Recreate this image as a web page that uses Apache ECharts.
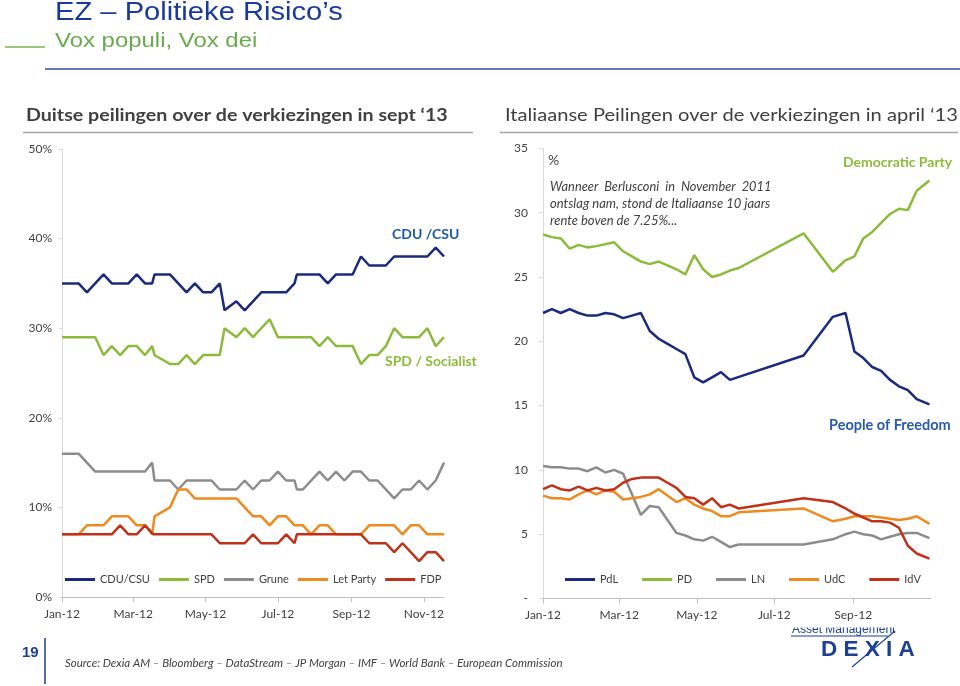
<!DOCTYPE html>
<html>
<head>
<meta charset="utf-8">
<script src="https://cdn.jsdelivr.net/npm/echarts@6/dist/echarts.min.js"></script>
<style>html,body{margin:0;padding:0;background:#fff;}#c{width:960px;height:686px;}</style>
</head>
<body>
<div id="c"></div>
<script>
// x values: days since 1 Jan 2012
const leftTickDays = [0, 60, 121, 182, 244, 305];
const leftTickLabels = ['Jan-12', 'Mar-12', 'May-12', 'Jul-12', 'Sep-12', 'Nov-12'];
const rightTickDays = [0, 60, 121, 182, 244];
const rightTickLabels = ['Jan-12', 'Mar-12', 'May-12', 'Jul-12', 'Sep-12'];

// German polls (%)
const cdu = [[0,35],[14,35],[21,34],[35,36],[42,35],[56,35],[63,36],[70,35],[76,35],[78,36],[91,36],[105,34],[112,35],[119,34],[126,34],[133,35],[137,32],[147,33],[154,32],[168,34],[189,34],[196,35],[198,36],[217,36],[224,35],[231,36],[245,36],[252,38],[259,37],[273,37],[280,38],[308,38],[315,39],[322,38]];
const spd = [[0,29],[28,29],[35,27],[42,28],[49,27],[56,28],[63,28],[70,27],[76,28],[78,27],[91,26],[98,26],[105,27],[112,26],[119,27],[133,27],[137,30],[147,29],[154,30],[161,29],[175,31],[182,29],[210,29],[217,28],[224,29],[231,28],[245,28],[252,26],[259,27],[266,27],[273,28],[280,30],[287,29],[301,29],[308,30],[315,28],[322,29]];
const grune = [[0,16],[14,16],[28,14],[70,14],[76,15],[78,13],[91,13],[98,12],[105,13],[126,13],[133,12],[147,12],[154,13],[161,12],[168,13],[175,13],[182,14],[189,13],[196,13],[198,12],[203,12],[217,14],[224,13],[231,14],[238,13],[245,14],[252,14],[259,13],[266,13],[280,11],[287,12],[294,12],[301,13],[308,12],[315,13],[322,15]];
const letParty = [[0,7],[14,7],[21,8],[35,8],[42,9],[56,9],[63,8],[70,8],[76,7],[78,9],[91,10],[98,12],[105,12],[112,11],[147,11],[161,9],[168,9],[175,8],[182,9],[189,9],[196,8],[203,8],[210,7],[217,8],[224,8],[231,7],[252,7],[259,8],[280,8],[287,7],[294,8],[301,8],[308,7],[322,7]];
const fdp = [[0,7],[42,7],[49,8],[56,7],[63,7],[70,8],[77,7],[126,7],[133,6],[154,6],[161,7],[168,6],[182,6],[189,7],[196,6],[198,7],[252,7],[259,6],[273,6],[280,5],[287,6],[301,4],[308,5],[315,5],[322,4]];

// Italian polls (%)
const pdl = [[0,22.2],[7,22.5],[14,22.2],[21,22.5],[28,22.2],[35,22.0],[42,22.0],[49,22.2],[56,22.1],[63,21.8],[70,22.0],[77,22.2],[84,20.8],[91,20.2],[98,19.8],[105,19.4],[112,19.0],[119,17.2],[126,16.8],[133,17.2],[140,17.6],[147,17.0],[205,18.9],[228,21.9],[238,22.2],[245,19.2],[252,18.7],[259,18.0],[266,17.7],[273,17.0],[280,16.5],[287,16.2],[294,15.5],[304,15.1]];
const pd = [[0,28.3],[7,28.1],[14,28.0],[21,27.2],[28,27.5],[35,27.3],[42,27.4],[56,27.7],[63,27.0],[70,26.6],[77,26.2],[84,26.0],[91,26.2],[98,25.9],[105,25.6],[112,25.2],[119,26.7],[126,25.6],[133,25.0],[140,25.2],[147,25.5],[154,25.7],[205,28.4],[228,25.4],[238,26.3],[245,26.6],[252,28.0],[259,28.5],[266,29.2],[273,29.9],[280,30.3],[287,30.2],[294,31.7],[304,32.5]];
const ln = [[0,10.3],[7,10.2],[14,10.2],[21,10.1],[28,10.1],[35,9.9],[42,10.2],[49,9.8],[56,10.0],[63,9.7],[77,6.5],[84,7.2],[91,7.1],[105,5.1],[112,4.9],[119,4.6],[126,4.5],[133,4.8],[140,4.4],[147,4.0],[154,4.2],[205,4.2],[228,4.6],[238,5.0],[245,5.2],[252,5.0],[259,4.9],[266,4.6],[273,4.8],[280,5.0],[287,5.1],[294,5.1],[304,4.7]];
const udc = [[0,8.0],[7,7.8],[14,7.8],[21,7.7],[28,8.1],[35,8.4],[42,8.1],[49,8.4],[56,8.3],[63,7.7],[70,7.8],[77,7.9],[84,8.1],[91,8.5],[105,7.5],[112,7.8],[119,7.3],[126,7.0],[133,6.8],[140,6.4],[147,6.4],[154,6.7],[205,7.0],[228,6.0],[238,6.2],[245,6.4],[252,6.4],[259,6.4],[266,6.3],[273,6.2],[280,6.1],[287,6.2],[294,6.4],[304,5.8]];
const idv = [[0,8.5],[7,8.8],[14,8.5],[21,8.4],[28,8.7],[35,8.4],[42,8.6],[49,8.4],[56,8.5],[63,9.0],[70,9.3],[77,9.4],[84,9.4],[91,9.4],[98,9.0],[105,8.6],[112,7.9],[119,7.8],[126,7.3],[133,7.8],[140,7.1],[147,7.3],[154,7.0],[205,7.8],[228,7.5],[238,7.0],[245,6.6],[252,6.3],[259,6.0],[266,6.0],[273,5.9],[280,5.5],[287,4.1],[294,3.5],[304,3.1]];

const NAVY = '#1b2a7c', GREEN = '#8cbb3c', GREY = '#8c8c8c', ORANGE = '#ee8a1f', RED = '#c0311a';
const TXT = '#404040';
const FONT = 'Lato, "Open Sans", sans-serif';
const ARIAL = '"Liberation Sans", Arial, sans-serif';

function line(name, data, color, idx) {
  return { name, type: 'line', data, xAxisIndex: idx, yAxisIndex: idx, symbol: 'none',
    color, lineStyle: { color, width: 2.5 }, z: 3 };
}
function xAx(idx, max, days, labels) {
  return { type: 'value', gridIndex: idx, min: 0, max,
    axisLine: { show: true, lineStyle: { color: '#bfbfbf', width: 1 } },
    axisTick: { show: true, customValues: days, length: 5, lineStyle: { color: '#bfbfbf' } },
    axisLabel: { customValues: days, formatter: v => labels[days.indexOf(v)], margin: 11,
      color: TXT, fontFamily: FONT, fontSize: 12 },
    splitLine: { show: false } };
}
function t(text, x, y, opts, sx) {
  return { type: 'text', silent: true, z: 10, x, y, scaleX: sx || 1,
    style: Object.assign({ text, x: 0, y: 0, fill: TXT, fontFamily: FONT, fontSize: 12,
      textAlign: 'left', textVerticalAlign: 'middle' }, opts || {}) };
}
function seg(x1, y1, x2, y2, color, w) {
  return { type: 'line', silent: true, z: 10, shape: { x1, y1, x2, y2 }, style: { stroke: color, lineWidth: w } };
}

const chart = echarts.init(document.getElementById('c'));
chart.setOption({
  animation: false,
  backgroundColor: '#ffffff',
  grid: [
    { left: 62, top: 149, width: 382, height: 448 },
    { left: 543, top: 148.4, width: 387.7, height: 450.1 }
  ],
  xAxis: [ xAx(0, 322, leftTickDays, leftTickLabels), xAx(1, 305, rightTickDays, rightTickLabels) ],
  yAxis: [
    { type: 'value', gridIndex: 0, min: 0, max: 50, interval: 10,
      axisLine: { show: true, lineStyle: { color: '#d9d9d9' } },
      axisTick: { show: true, length: 3, lineStyle: { color: '#d9d9d9' } },
      axisLabel: { formatter: '{value}%', margin: 10, color: TXT, fontFamily: FONT, fontSize: 12 },
      splitLine: { show: false } },
    { type: 'value', gridIndex: 1, min: 0, max: 35, interval: 5,
      axisLine: { show: true, lineStyle: { color: '#d9d9d9' } },
      axisTick: { show: true, length: 4, lineStyle: { color: '#d9d9d9' } },
      axisLabel: { formatter: v => v === 0 ? '-' : String(v), margin: 15, color: TXT, fontFamily: FONT, fontSize: 12 },
      splitLine: { show: false } }
  ],
  legend: [
    { data: ['CDU/CSU', 'SPD', 'Grune', 'Let Party', 'FDP'], left: 65, top: 574, orient: 'horizontal',
      icon: 'rect', itemWidth: 30, itemHeight: 3, itemGap: 9,
      textStyle: { color: TXT, fontFamily: FONT, fontSize: 11 }, padding: 0 },
    { data: ['PdL', 'PD', 'LN', 'UdC', 'IdV'], left: 565, top: 574, orient: 'horizontal',
      icon: 'rect', itemWidth: 30, itemHeight: 3, itemGap: 24,
      textStyle: { color: TXT, fontFamily: FONT, fontSize: 11 }, padding: 0 }
  ],
  series: [
    line('CDU/CSU', cdu, NAVY, 0),
    line('SPD', spd, GREEN, 0),
    line('Grune', grune, GREY, 0),
    line('Let Party', letParty, ORANGE, 0),
    line('FDP', fdp, RED, 0),
    line('PdL', pdl, NAVY, 1),
    line('PD', pd, GREEN, 1),
    line('LN', ln, GREY, 1),
    line('UdC', udc, ORANGE, 1),
    line('IdV', idv, RED, 1)
  ],
  graphic: [
    t('EZ – Politieke Risico’s', 55, 12.8, { fill: '#1a3a9a', fontFamily: ARIAL, fontSize: 26.5 }, 1.1),
    t('Vox populi, Vox dei', 55, 41, { fill: '#6aaa4e', fontFamily: ARIAL, fontSize: 21 }, 1.14),
    seg(5, 47, 45, 47, '#7ab356', 1.5),
    seg(45, 69, 960, 69, '#2e4fa3', 1.5),
    t('Duitse peilingen over de verkiezingen in sept ‘13', 26, 116, { fontWeight: 'bold', fontSize: 16.5 }, 1.19),
    seg(23, 132.5, 473, 132.5, '#a6a6a6', 1.5),
    t('Italiaanse Peilingen over de verkiezingen in april ‘13', 505, 116, { fontSize: 16.5 }, 1.22),
    seg(500, 132.5, 958, 132.5, '#a6a6a6', 1.5),
    t('CDU /CSU', 392, 234, { fontWeight: 'bold', fontSize: 14, fill: '#1f5aa8' }),
    t('SPD / Socialist', 385, 361, { fontWeight: 'bold', fontSize: 14, fill: GREEN }),
    t('%', 548, 160, { fontSize: 14 }),
    t('Wanneer  Berlusconi  in  November  2011', 550, 187, { fontStyle: 'italic', fontSize: 12.8 }),
    t('ontslag nam, stond de Italiaanse 10 jaars', 550, 204, { fontStyle: 'italic', fontSize: 13 }),
    t('rente boven de 7.25%...', 550, 221, { fontStyle: 'italic', fontSize: 13 }),
    t('Democratic Party', 843, 162, { fontWeight: 'bold', fontSize: 14, fill: GREEN }),
    t('People of Freedom', 829, 425, { fontWeight: 'bold', fontSize: 14.5, fill: '#2a5ba8' }),
    t('19', 22, 653, { fontWeight: 'bold', fontSize: 15, fill: '#1c3f94', fontFamily: ARIAL }),
    seg(45, 638, 45, 684, '#1c3f94', 1.5),
    t('Source: Dexia AM – Bloomberg – DataStream – JP Morgan – IMF – World Bank – European Commission', 65, 663, { fontStyle: 'italic', fontSize: 11.5 }),
    t('Asset Management', 792, 630, { fontSize: 12, fill: '#1c3f94', fontFamily: ARIAL }),
    { type: 'rect', silent: true, z: 11, shape: { x: 785, y: 622, width: 110, height: 5.5 }, style: { fill: '#ffffff' } },
    seg(791, 636, 888, 636, '#1c3f94', 1.2),
    t('D E X I A', 821, 650, { fontWeight: 'bold', fontSize: 22.5, fill: '#1c3f94', fontFamily: ARIAL }),
    seg(895, 631, 852, 667, '#1c3f94', 1.2)
  ]
});
</script>
</body>
</html>
